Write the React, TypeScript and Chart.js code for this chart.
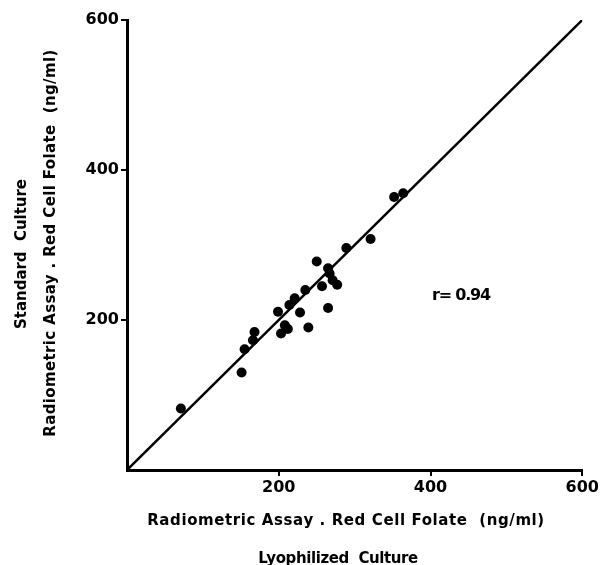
import React, { useEffect, useRef } from "react";
import { Chart, registerables } from "chart.js";

Chart.register(...registerables);

const lyophilized = [71, 151, 155, 166, 168, 199, 203, 208, 212, 214, 221, 228, 235, 239, 250, 257, 265, 267, 271, 277, 265, 289, 321, 352, 364];
const standard = [82, 130, 161, 173, 184, 211, 182, 193, 188, 220, 229, 210, 240, 190, 278, 245, 269, 262, 253, 247, 216, 296, 308, 364, 369];
const identityLine = [0, 600];
const tickValues = [200, 400, 600];
const xTitleLines = ["Radiometric Assay . Red Cell Folate  (ng/ml)", "Lyophilized  Culture"];
const yTitleLines = ["Standard  Culture", "Radiometric Assay . Red Cell Folate  (ng/ml)"];
const corrLabel = "r= 0.94";

const FONT = "'DejaVu Sans', 'Liberation Sans', Arial, sans-serif";

function drawSpaced(ctx: CanvasRenderingContext2D, text: string, x: number, y: number, target: number | null) {
  (ctx as any).letterSpacing = "0px";
  if (target) {
    const w = ctx.measureText(text).width;
    const ls = (target - w) / Math.max(1, text.length - 1);
    (ctx as any).letterSpacing = ls + "px";
  }
  ctx.fillText(text, x, y);
  (ctx as any).letterSpacing = "0px";
}

const titlePlugin = {
  id: "titles",
  afterDraw(chart: any) {
    const ctx: CanvasRenderingContext2D = chart.ctx;
    const xs = chart.scales.x;
    const ys = chart.scales.y;
    ctx.save();
    ctx.fillStyle = "#000";
    ctx.textAlign = "center";
    ctx.textBaseline = "middle";
    ctx.font = `bold 15px ${FONT}`;
    drawSpaced(ctx, xTitleLines[0], 346, 521, 397);
    drawSpaced(ctx, xTitleLines[1], 338, 559, 160);
    ctx.save();
    ctx.translate(22, 254);
    ctx.rotate(-Math.PI / 2);
    drawSpaced(ctx, yTitleLines[0], 0, 0, 150);
    ctx.restore();
    ctx.save();
    ctx.translate(51, 243);
    ctx.rotate(-Math.PI / 2);
    drawSpaced(ctx, yTitleLines[1], 0, 0, 387);
    ctx.restore();
    ctx.textAlign = "left";
    ctx.font = `bold 16px ${FONT}`;
    const px = xs.getPixelForValue(402);
    const py = ys.getPixelForValue(232);
    drawSpaced(ctx, corrLabel, px, py, 59);
    ctx.restore();
  },
};

export default function App() {
  const ref = useRef<HTMLCanvasElement | null>(null);
  useEffect(() => {
    if (!ref.current) return;
    const axisCommon = {
      type: "linear" as const,
      min: 0,
      max: 600,
      afterBuildTicks: (s: any) => {
        s.ticks = tickValues.map((v) => ({ value: v }));
      },
      ticks: {
        color: "#000",
        font: { family: FONT, size: 16, weight: "bold" as const },
        padding: 2,
      },
      grid: {
        drawOnChartArea: false,
        drawTicks: true,
        tickLength: 6,
        color: "#000",
        lineWidth: 2,
      },
      border: { display: true, color: "#000", width: 3 },
    };
    const chart = new Chart(ref.current, {
      type: "scatter",
      data: {
        datasets: [
          {
            type: "line" as const,
            data: identityLine.map((v) => ({ x: v, y: v })),
            borderColor: "#000",
            borderWidth: 2.5,
            pointRadius: 0,
            fill: false,
          },
          {
            type: "scatter" as const,
            data: lyophilized.map((v, i) => ({ x: v, y: standard[i] })),
            backgroundColor: "#000",
            borderColor: "#000",
            pointRadius: 5,
            borderWidth: 0,
          },
        ],
      },
      options: {
        responsive: false,
        animation: false,
        layout: { padding: { top: 20, right: 18, left: 0, bottom: 0 } },
        plugins: { legend: { display: false }, tooltip: { enabled: false }, title: { display: false } },
        scales: {
          x: { ...axisCommon, afterFit: (s: any) => { s.height = 95; } },
          y: { ...axisCommon, afterFit: (s: any) => { s.width = 127; } },
        },
      },
      plugins: [titlePlugin],
    } as any);
    return () => chart.destroy();
  }, []);
  return (
    <div style={{ position: "absolute", left: 0, top: 0, width: 601, height: 565, background: "#fff" }}>
      <canvas ref={ref} width={601} height={565} />
    </div>
  );
}
